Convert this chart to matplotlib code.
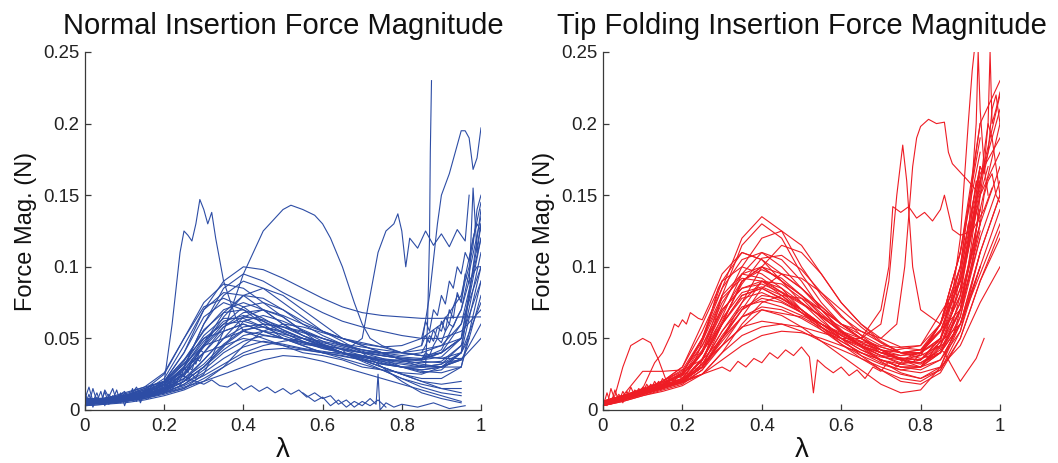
import numpy as np
import matplotlib
matplotlib.use("Agg")
import matplotlib.pyplot as plt

nan = np.nan

# ---------------- data ----------------
titles = ["Normal Insertion Force Magnitude", "Tip Folding Insertion Force Magnitude"]
ylabel_text = "Force Mag. (N)"
xlabel_text = "λ"
xtick_vals = [0, 0.2, 0.4, 0.6, 0.8, 1.0]
xtick_labels = ["0", "0.2", "0.4", "0.6", "0.8", "1"]
ytick_vals = [0, 0.05, 0.1, 0.15, 0.2, 0.25]
ytick_labels = ["0", "0.05", "0.1", "0.15", "0.2", "0.25"]

grid_x = [0, .05, .1, .15, .2, .25, .3, .35, .4, .45, .5, .55, .6, .65, .7, .75, .8, .85, .9, .95, 1.0]

# Normal insertion: bundle traces on grid_x
blue_bundle = [
    [.005,.006,.008,.012,.02,.035,.055,.07,.075,.07,.06,.052,.047,.044,.04,.038,.036,.035,.04,.06,.10],
    [.004,.005,.007,.01,.015,.025,.045,.065,.08,.085,.08,.07,.06,.05,.045,.04,.035,.03,.03,.035,.05],
    [.008,.008,.01,.012,.018,.03,.05,.06,.062,.058,.055,.05,.045,.04,.038,.035,.035,.035,.04,.05,.09],
    [.003,.004,.006,.009,.013,.02,.03,.045,.055,.06,.058,.054,.05,.046,.042,.04,.035,.032,.03,.035,nan],
    [.006,.007,.009,.011,.015,.022,.035,.05,.065,.07,.065,.055,.045,.04,.035,.03,.025,.022,.022,.03,.08],
    [.005,.005,.006,.008,.012,.018,.028,.04,.048,.052,.05,.047,.045,.043,.04,.038,.036,.035,.037,.05,.13],
    [.007,.008,.01,.014,.025,.05,.075,.088,.085,.075,.065,.055,.048,.042,.038,.033,.03,.028,.03,.04,.14],
    [.004,.005,.007,.01,.016,.03,.06,.08,.09,.085,.075,.065,.055,.05,.045,.04,.038,.04,.045,.06,.12],
    [.006,.006,.008,.01,.013,.017,.024,.032,.04,.045,.048,.05,.048,.045,.042,.04,.04,.042,.045,.05,nan],
    [.005,.006,.008,.012,.02,.04,.065,.075,.07,.06,.05,.045,.04,.036,.032,.028,.022,.018,.015,.015,nan],
    [.004,.005,.006,.008,.011,.015,.022,.03,.038,.042,.043,.042,.04,.038,.035,.03,.025,.02,.015,.012,nan],
    [.006,.007,.009,.012,.017,.025,.04,.055,.06,.055,.05,.046,.044,.04,.037,.034,.032,.03,.032,.045,.11],
    [.005,.006,.007,.009,.012,.016,.02,.025,.03,.035,.038,.037,.034,.03,.026,.022,.018,.014,.01,.006,nan],
    [.007,.007,.009,.013,.022,.045,.07,.082,.08,.07,.06,.052,.046,.04,.036,.032,.03,.03,.032,.04,.075],
    [.003,.004,.005,.007,.01,.014,.02,.03,.045,.055,.06,.058,.054,.05,.047,.044,.04,.038,.036,.04,nan],
    [.005,.006,.008,.011,.016,.028,.045,.06,.072,.075,.07,.062,.055,.05,.046,.044,.045,.05,.06,.08,.145],
    [.006,.007,.008,.01,.014,.02,.03,.042,.052,.055,.053,.05,.045,.04,.035,.03,.025,.02,.018,.02,nan],
    [.004,.005,.007,.009,.013,.02,.035,.05,.058,.06,.058,.055,.05,.046,.044,.042,.04,.038,.036,.036,nan],
    [.005,.006,.008,.01,.015,.03,.06,.085,.095,.09,.082,.075,.068,.062,.058,.055,.052,.05,.05,.055,.07],
    [.005,.006,.008,.012,.02,.04,.07,.09,.1,.098,.092,.085,.078,.072,.068,.066,.065,.064,.064,.065,.065],
    [.004,.005,.006,.009,.014,.024,.04,.058,.068,.07,.066,.06,.055,.048,.04,.03,.02,.012,.008,.005,nan],
    [.006,.007,.009,.012,.018,.03,.048,.062,.066,.062,.056,.05,.046,.042,.04,.036,.03,.026,.028,.04,.1],
    [.005,.006,.007,.01,.014,.022,.032,.046,.056,.058,.054,.048,.044,.04,.036,.032,.03,.028,.03,.036,nan],
    [.004,.005,.007,.011,.018,.034,.056,.068,.07,.064,.056,.05,.044,.04,.037,.035,.034,.036,.042,.07,.135],
    [.006,.008,.011,.016,.026,.05,.072,.078,.072,.062,.054,.048,.043,.04,.038,.036,.034,.033,.034,.045,nan],
    [.005,.006,.008,.01,.014,.02,.03,.044,.062,.066,.062,.056,.05,.045,.041,.038,.036,.034,.033,.035,.06],
    [.004,.005,.006,.008,.012,.018,.026,.036,.044,.048,.046,.043,.041,.039,.037,.035,.033,.031,.03,.03,nan],
    [.007,.008,.01,.013,.019,.032,.052,.064,.064,.058,.052,.047,.043,.04,.037,.034,.03,.027,.026,.03,.09],
    [.005,.005,.007,.01,.015,.026,.044,.058,.065,.063,.058,.052,.046,.04,.034,.028,.022,.016,.012,.01,nan],
    [.006,.007,.009,.012,.017,.028,.046,.068,.08,.078,.07,.06,.052,.046,.042,.039,.037,.036,.04,.05,.12],
]

# Normal insertion: individual traces
b_spike148_x = [0,.05,.1,.15,.2,.22,.24,.25,.26,.27,.28,.29,.3,.31,.32,.33,.35,.38,.4,.45,.5,.55,.6,.65,.7,.75,.8,.85,.9,.95,.97]
b_spike148_y = [.008,.008,.01,.012,.02,.06,.11,.125,.122,.118,.13,.147,.14,.13,.138,.12,.09,.065,.055,.05,.045,.04,.038,.035,.03,.028,.026,.025,.03,.04,.05]
b_hump143_x = [0,.1,.2,.25,.3,.35,.4,.45,.5,.52,.55,.58,.6,.62,.65,.68,.7,.72,.75,.8,.85,.9,.95]
b_hump143_y = [.005,.007,.012,.015,.025,.055,.095,.125,.14,.143,.14,.136,.13,.12,.1,.075,.06,.05,.045,.04,.038,.04,.05]
b_hump135_x = [0,.1,.2,.3,.4,.5,.6,.65,.7,.72,.74,.76,.78,.79,.8,.81,.82,.84,.86,.88,.9,.92,.94,.96,.97]
b_hump135_y = [.006,.01,.02,.05,.06,.05,.04,.04,.05,.08,.11,.125,.13,.137,.125,.1,.12,.113,.125,.115,.123,.114,.126,.118,.15]
b_spike23_x = [0,.1,.2,.3,.4,.5,.6,.7,.8,.85,.86,.865,.87,.872,.875]
b_spike23_y = [.007,.01,.018,.04,.05,.045,.04,.035,.03,.03,.03,.06,.12,.18,.23]
b_rise195_x = [0,.1,.2,.3,.4,.5,.6,.7,.8,.85,.87,.89,.9,.92,.94,.95,.96,.97,.98,.99,1.0]
b_rise195_y = [.006,.01,.02,.045,.055,.05,.045,.04,.04,.045,.08,.13,.15,.165,.185,.195,.195,.19,.168,.176,.197]
b_low_x = [0,.05,.1,.15,.2,.22,.24,.26,.28,.3,.32,.34,.36,.38,.4,.42,.44,.46,.48,.5,.52,.54,.56,.58,.6,.62,.64,.66,.68,.7,.72,.74,.76]
b_low_y = [.006,.008,.012,.016,.02,.022,.025,.022,.02,.018,.021,.017,.016,.019,.014,.017,.013,.016,.012,.015,.011,.014,.009,.012,.008,.01,.004,.007,.002,.006,.003,.007,.002]
b_floor_x = [.55,.58,.6,.62,.64,.66,.68,.7,.72,.735,.74,.745,.76,.78,.8,.84,.88,.92,.96]
b_floor_y = [.012,.006,.009,.003,.007,.002,.006,.003,.008,.004,.025,.0,.005,.002,.004,.002,.005,.001,.003]
b_noise_x = [0,.01,.02,.03,.04,.05,.06,.07,.08,.09,.1,.11,.12,.13,.14,.15,.16,.17,.18,.19,.2,.21,.22,.23,.24,.25,.26,.27,.28,.29,.3]
b_noise_1 = [.012,.004,.015,.006,.013,.003,.011,.007,.014,.005,.012,.008,.015,.006,.013,.009,.016,.01,.014,.018,.012,.02,.016,.024,.02,.03,.026,.035,.032,.042,.04]
b_noise_2 = [.003,.011,.002,.009,.005,.013,.004,.01,.006,.012,.003,.011,.007,.013,.005,.012,.008,.014,.011,.015,.012,.017,.014,.02,.017,.022,.02,.025,.022,.028,.03]
b_noise_3 = [.008,.016,.006,.012,.004,.014,.009,.015,.006,.011,.013,.007,.012,.016,.01,.014,.012,.018,.013,.016,.02,.015,.022,.018,.026,.023,.03,.028,.036,.034,.04]
b_tail_x = [.85,.86,.87,.88,.89,.9,.91,.92,.93,.94,.95,.96,.97,.98,.99,1.0]
b_tail_1 = [.05,.062,.055,.07,.066,.08,.074,.09,.085,.1,.095,.11,.104,.12,.13,.125]
b_tail_2 = [.04,.045,.052,.048,.058,.055,.065,.06,.072,.08,.076,.09,.1,.115,.14,.15]
b_tail_3 = [.035,.04,.038,.045,.05,.047,.055,.06,.058,.065,.07,.08,.09,.095,.1,.1]
b_tail_4 = [.045,.052,.047,.056,.05,.062,.055,.07,.064,.082,.075,.095,.088,.155,.11,.13]

# Tip folding insertion: bundle traces on grid_x
red_bundle = [
    [.004,.008,.012,.016,.022,.04,.08,.115,.13,.12,.095,.075,.06,.05,.04,.035,.038,.06,.11,.19,nan],
    [.005,.009,.013,.018,.025,.05,.09,.11,.105,.09,.075,.062,.052,.045,.04,.038,.04,.055,.09,.16,.22],
    [.003,.007,.011,.015,.02,.035,.065,.095,.11,.105,.09,.07,.055,.045,.035,.03,.03,.045,.085,.15,nan],
    [.006,.01,.014,.02,.03,.06,.09,.1,.095,.085,.07,.058,.048,.04,.035,.032,.035,.05,.08,.13,.17],
    [.004,.008,.012,.017,.022,.04,.07,.085,.09,.085,.075,.065,.055,.045,.038,.033,.033,.04,.07,.12,nan],
    [.005,.009,.013,.017,.02,.03,.05,.075,.1,.115,.11,.095,.075,.06,.048,.04,.038,.045,.075,.14,nan],
    [.003,.006,.01,.014,.018,.028,.05,.07,.08,.078,.07,.06,.05,.042,.035,.03,.028,.035,.06,.11,.15],
    [.006,.01,.014,.02,.028,.05,.085,.12,.135,.125,.1,.08,.065,.055,.047,.04,.04,.05,.08,.16,.21],
    [.004,.007,.011,.015,.019,.025,.04,.06,.075,.08,.078,.07,.06,.05,.042,.035,.03,.035,.055,.1,.14],
    [.005,.008,.012,.016,.021,.035,.06,.08,.085,.078,.068,.058,.05,.042,.037,.035,.04,.06,.1,.17,nan],
    [.004,.008,.012,.016,.02,.03,.045,.058,.062,.06,.055,.048,.042,.036,.03,.025,.022,.028,.05,.09,.12],
    [.005,.009,.013,.018,.024,.045,.075,.095,.1,.095,.085,.072,.06,.05,.042,.036,.035,.05,.1,.2,nan],
    [.003,.007,.011,.015,.02,.03,.048,.065,.072,.07,.064,.056,.048,.04,.033,.028,.026,.03,.045,.075,.1],
    [.006,.01,.015,.02,.027,.045,.07,.085,.088,.082,.074,.066,.058,.05,.044,.04,.042,.06,.11,.18,nan],
    [.004,.008,.012,.016,.02,.025,.035,.045,.052,.055,.054,.05,.045,.04,.035,.03,.03,.04,.065,.12,.16],
    [.005,.009,.013,.017,.022,.04,.068,.09,.098,.092,.08,.066,.054,.045,.038,.032,.03,.04,.07,.14,.2],
    [.004,.007,.011,.015,.019,.028,.045,.065,.085,.095,.092,.082,.07,.058,.047,.04,.036,.04,.06,.1,nan],
    [.006,.01,.014,.019,.026,.05,.08,.095,.092,.082,.07,.06,.052,.046,.042,.04,.042,.055,.09,.15,.18],
    [.004,.008,.012,.016,.02,.03,.052,.07,.078,.075,.068,.06,.052,.045,.04,.036,.035,.045,.075,.13,nan],
    [.005,.009,.013,.018,.024,.042,.072,.1,.12,.125,.115,.095,.075,.06,.05,.044,.045,.06,.1,.17,nan],
    [.004,.008,.012,.016,.021,.035,.06,.078,.082,.076,.068,.06,.053,.047,.042,.038,.04,.06,.11,.2,.23],
    [.003,.006,.01,.013,.017,.025,.04,.052,.058,.06,.058,.054,.05,.045,.04,.035,.032,.04,.06,.095,.13],
    [.005,.008,.012,.016,.02,.03,.05,.065,.07,.066,.058,.048,.038,.028,.018,.012,.014,.03,.06,.1,nan],
    [.004,.007,.011,.015,.02,.032,.055,.075,.09,.088,.078,.064,.05,.038,.028,.02,.018,.026,.05,.09,.125],
    [.006,.01,.014,.02,.03,.055,.085,.105,.11,.1,.085,.07,.056,.044,.034,.026,.022,.03,.065,.13,nan],
    [.005,.009,.013,.018,.026,.048,.078,.092,.09,.08,.068,.056,.046,.038,.032,.028,.03,.048,.095,.165,.19],
    [.004,.008,.012,.016,.021,.036,.062,.088,.106,.108,.098,.082,.066,.052,.042,.035,.033,.042,.07,.125,nan],
    [.006,.01,.014,.019,.025,.04,.064,.082,.086,.08,.07,.058,.046,.036,.028,.022,.02,.028,.055,.11,.15],
    [.003,.007,.011,.015,.02,.032,.055,.072,.076,.072,.066,.06,.054,.048,.044,.04,.04,.05,.085,.155,nan],
]

# Tip folding insertion: individual traces
r_plat20_x = [0,.1,.2,.3,.35,.4,.5,.6,.65,.7,.74,.76,.78,.79,.8,.82,.84,.86,.87,.88,.9,.92,.95,.97]
r_plat20_y = [.005,.013,.022,.06,.09,.1,.08,.06,.055,.05,.06,.1,.17,.19,.198,.203,.2,.201,.18,.172,.166,.16,.15,.17]
r_peak185_x = [0,.1,.2,.3,.4,.5,.6,.65,.7,.72,.74,.755,.765,.78,.8,.85,.9,.95]
r_peak185_y = [.004,.012,.02,.05,.09,.075,.055,.05,.06,.09,.15,.185,.16,.1,.07,.06,.09,.16]
r_plat14_x = [0,.1,.2,.3,.4,.5,.6,.65,.7,.72,.73,.75,.77,.79,.81,.83,.85,.86,.88,.9,.93,.96,.98]
r_plat14_y = [.005,.012,.02,.045,.07,.065,.05,.05,.07,.1,.142,.138,.142,.134,.138,.132,.14,.15,.126,.122,.125,.14,.155]
r_noisy_x = [0,.05,.1,.15,.2,.25,.3,.32,.34,.36,.38,.4,.42,.44,.46,.48,.5,.52,.53,.54,.56,.58,.6,.62,.64,.66,.68,.7,.72,.74,.76,.78,.8,.82,.84,.86,.88,.9,.92,.94,.96]
r_noisy_y = [.004,.008,.012,.016,.02,.025,.03,.027,.034,.03,.036,.033,.04,.036,.042,.038,.044,.037,.012,.035,.03,.026,.03,.024,.028,.022,.03,.027,.034,.03,.036,.033,.04,.036,.045,.04,.03,.02,.028,.036,.05]
r_early_x = [0,.03,.05,.07,.1,.12,.14,.16,.18,.2,.25,.3,.35,.4,.5,.6,.7,.8,.9,.95]
r_early_y = [.003,.01,.03,.045,.05,.047,.035,.02,.018,.02,.03,.06,.09,.1,.08,.055,.04,.045,.09,.16]
r_wiggle_x = [0,.05,.1,.13,.15,.17,.18,.19,.2,.21,.22,.23,.24,.25,.27,.3,.35,.4,.5,.6,.7,.8,.9,.95]
r_wiggle_y = [.003,.008,.015,.033,.04,.052,.06,.058,.063,.06,.068,.066,.064,.063,.075,.095,.11,.105,.085,.06,.045,.042,.07,.14]
r_flat_x = [0,.05,.1,.15,.2,.25,.3,.35,.4,.5,.6,.7,.8,.9,.95]
r_flat_y = [.004,.01,.027,.027,.028,.035,.06,.08,.085,.07,.05,.038,.035,.06,.11]
r_spike_a_x = [.8,.85,.88,.9,.92,.93,.935]
r_spike_a_y = [.04,.055,.08,.12,.2,.237,.25]
r_spike_b_x = [.82,.87,.9,.92,.94,.945,.95,.955,.96,.97]
r_spike_b_y = [.035,.05,.08,.12,.2,.25,.21,.19,.17,.15]
r_spike_c_x = [.8,.86,.9,.93,.95,.96,.97,.975,.98,.99,1.0]
r_spike_c_y = [.04,.05,.07,.1,.15,.17,.2,.25,.2,.21,.222]
r_noise_x = [0,.01,.02,.03,.04,.05,.06,.07,.08,.09,.1,.11,.12,.13,.14,.15,.16,.17,.18,.19,.2,.21,.22,.23,.24,.25,.26,.27,.28,.29,.3]
r_noise_1 = [.002,.012,.004,.014,.006,.013,.008,.016,.01,.015,.012,.018,.014,.02,.016,.022,.018,.021,.02,.024,.022,.026,.025,.03,.028,.035,.04,.05,.06,.07,.08]
r_noise_2 = [.008,.003,.015,.007,.011,.005,.013,.009,.014,.011,.016,.012,.018,.015,.02,.017,.019,.023,.02,.025,.024,.028,.03,.034,.04,.048,.055,.065,.075,.085,.09]
r_tail_x = [.86,.87,.88,.89,.9,.91,.92,.93,.94,.95,.96,.97,.98,.99,1.0]
r_tail_1 = [.06,.075,.07,.09,.1,.12,.115,.14,.16,.155,.18,.2,.19,.17,.15]
r_tail_2 = [.05,.06,.068,.08,.095,.11,.13,.125,.15,.17,.165,.18,.21,.22,.2]
r_tail_3 = [.04,.045,.05,.06,.07,.085,.1,.12,.14,.13,.15,.16,.165,.15,.145]

# ---------------- drawing ----------------
BLUE = "#2D4DA5"
RED = "#EE1C24"
plt.rcParams['font.family'] = ['Liberation Sans', 'DejaVu Sans']

fig = plt.figure(figsize=(10.58, 4.63), dpi=100)
axL = fig.add_axes([85/1058, 53/463, 396/1058, 358/463])
axR = fig.add_axes([603/1058, 53/463, 397/1058, 358/463])

lw = 0.8
for row in blue_bundle:
    axL.plot(grid_x, row, color=BLUE, lw=lw)
for xs, ys in [(b_spike148_x, b_spike148_y), (b_hump143_x, b_hump143_y),
               (b_hump135_x, b_hump135_y), (b_spike23_x, b_spike23_y),
               (b_rise195_x, b_rise195_y), (b_low_x, b_low_y), (b_floor_x, b_floor_y)]:
    axL.plot(xs, ys, color=BLUE, lw=lw)
for ys in [b_noise_1, b_noise_2, b_noise_3]:
    axL.plot(b_noise_x, ys, color=BLUE, lw=lw)
for ys in [b_tail_1, b_tail_2, b_tail_3, b_tail_4]:
    axL.plot(b_tail_x, ys, color=BLUE, lw=lw)

for row in red_bundle:
    axR.plot(grid_x, row, color=RED, lw=lw)
for xs, ys in [(r_plat20_x, r_plat20_y), (r_peak185_x, r_peak185_y),
               (r_plat14_x, r_plat14_y), (r_noisy_x, r_noisy_y),
               (r_early_x, r_early_y), (r_wiggle_x, r_wiggle_y), (r_flat_x, r_flat_y),
               (r_spike_a_x, r_spike_a_y), (r_spike_b_x, r_spike_b_y), (r_spike_c_x, r_spike_c_y)]:
    axR.plot(xs, ys, color=RED, lw=lw)
for ys in [r_noise_1, r_noise_2]:
    axR.plot(r_noise_x, ys, color=RED, lw=lw)
for ys in [r_tail_1, r_tail_2, r_tail_3]:
    axR.plot(r_tail_x, ys, color=RED, lw=lw)

for ax, title in zip([axL, axR], titles):
    ax.set_xlim(0, 1)
    ax.set_ylim(0, 0.25)
    ax.set_xticks(xtick_vals)
    ax.set_xticklabels(xtick_labels)
    ax.set_yticks(ytick_vals)
    ax.set_yticklabels(ytick_labels)
    for s in ['top', 'right']:
        ax.spines[s].set_visible(False)
    for s in ['left', 'bottom']:
        ax.spines[s].set_color('#3a3a3a')
        ax.spines[s].set_linewidth(0.9)
    ax.tick_params(direction='in', length=4, width=0.9, colors='#3a3a3a',
                   labelsize=13.4, labelcolor='#222222')
    ax.tick_params(axis='x', pad=6)
    ax.tick_params(axis='y', pad=4)
    ax.set_title(title, fontsize=21, color='#111111', pad=13)
    ax.set_ylabel(ylabel_text, fontsize=17, color='#111111', labelpad=4)
    ax.set_xlabel(xlabel_text, fontsize=20, color='#111111', labelpad=1)
    ax.patch.set_alpha(0)

fig.savefig("out.png", dpi=100)
